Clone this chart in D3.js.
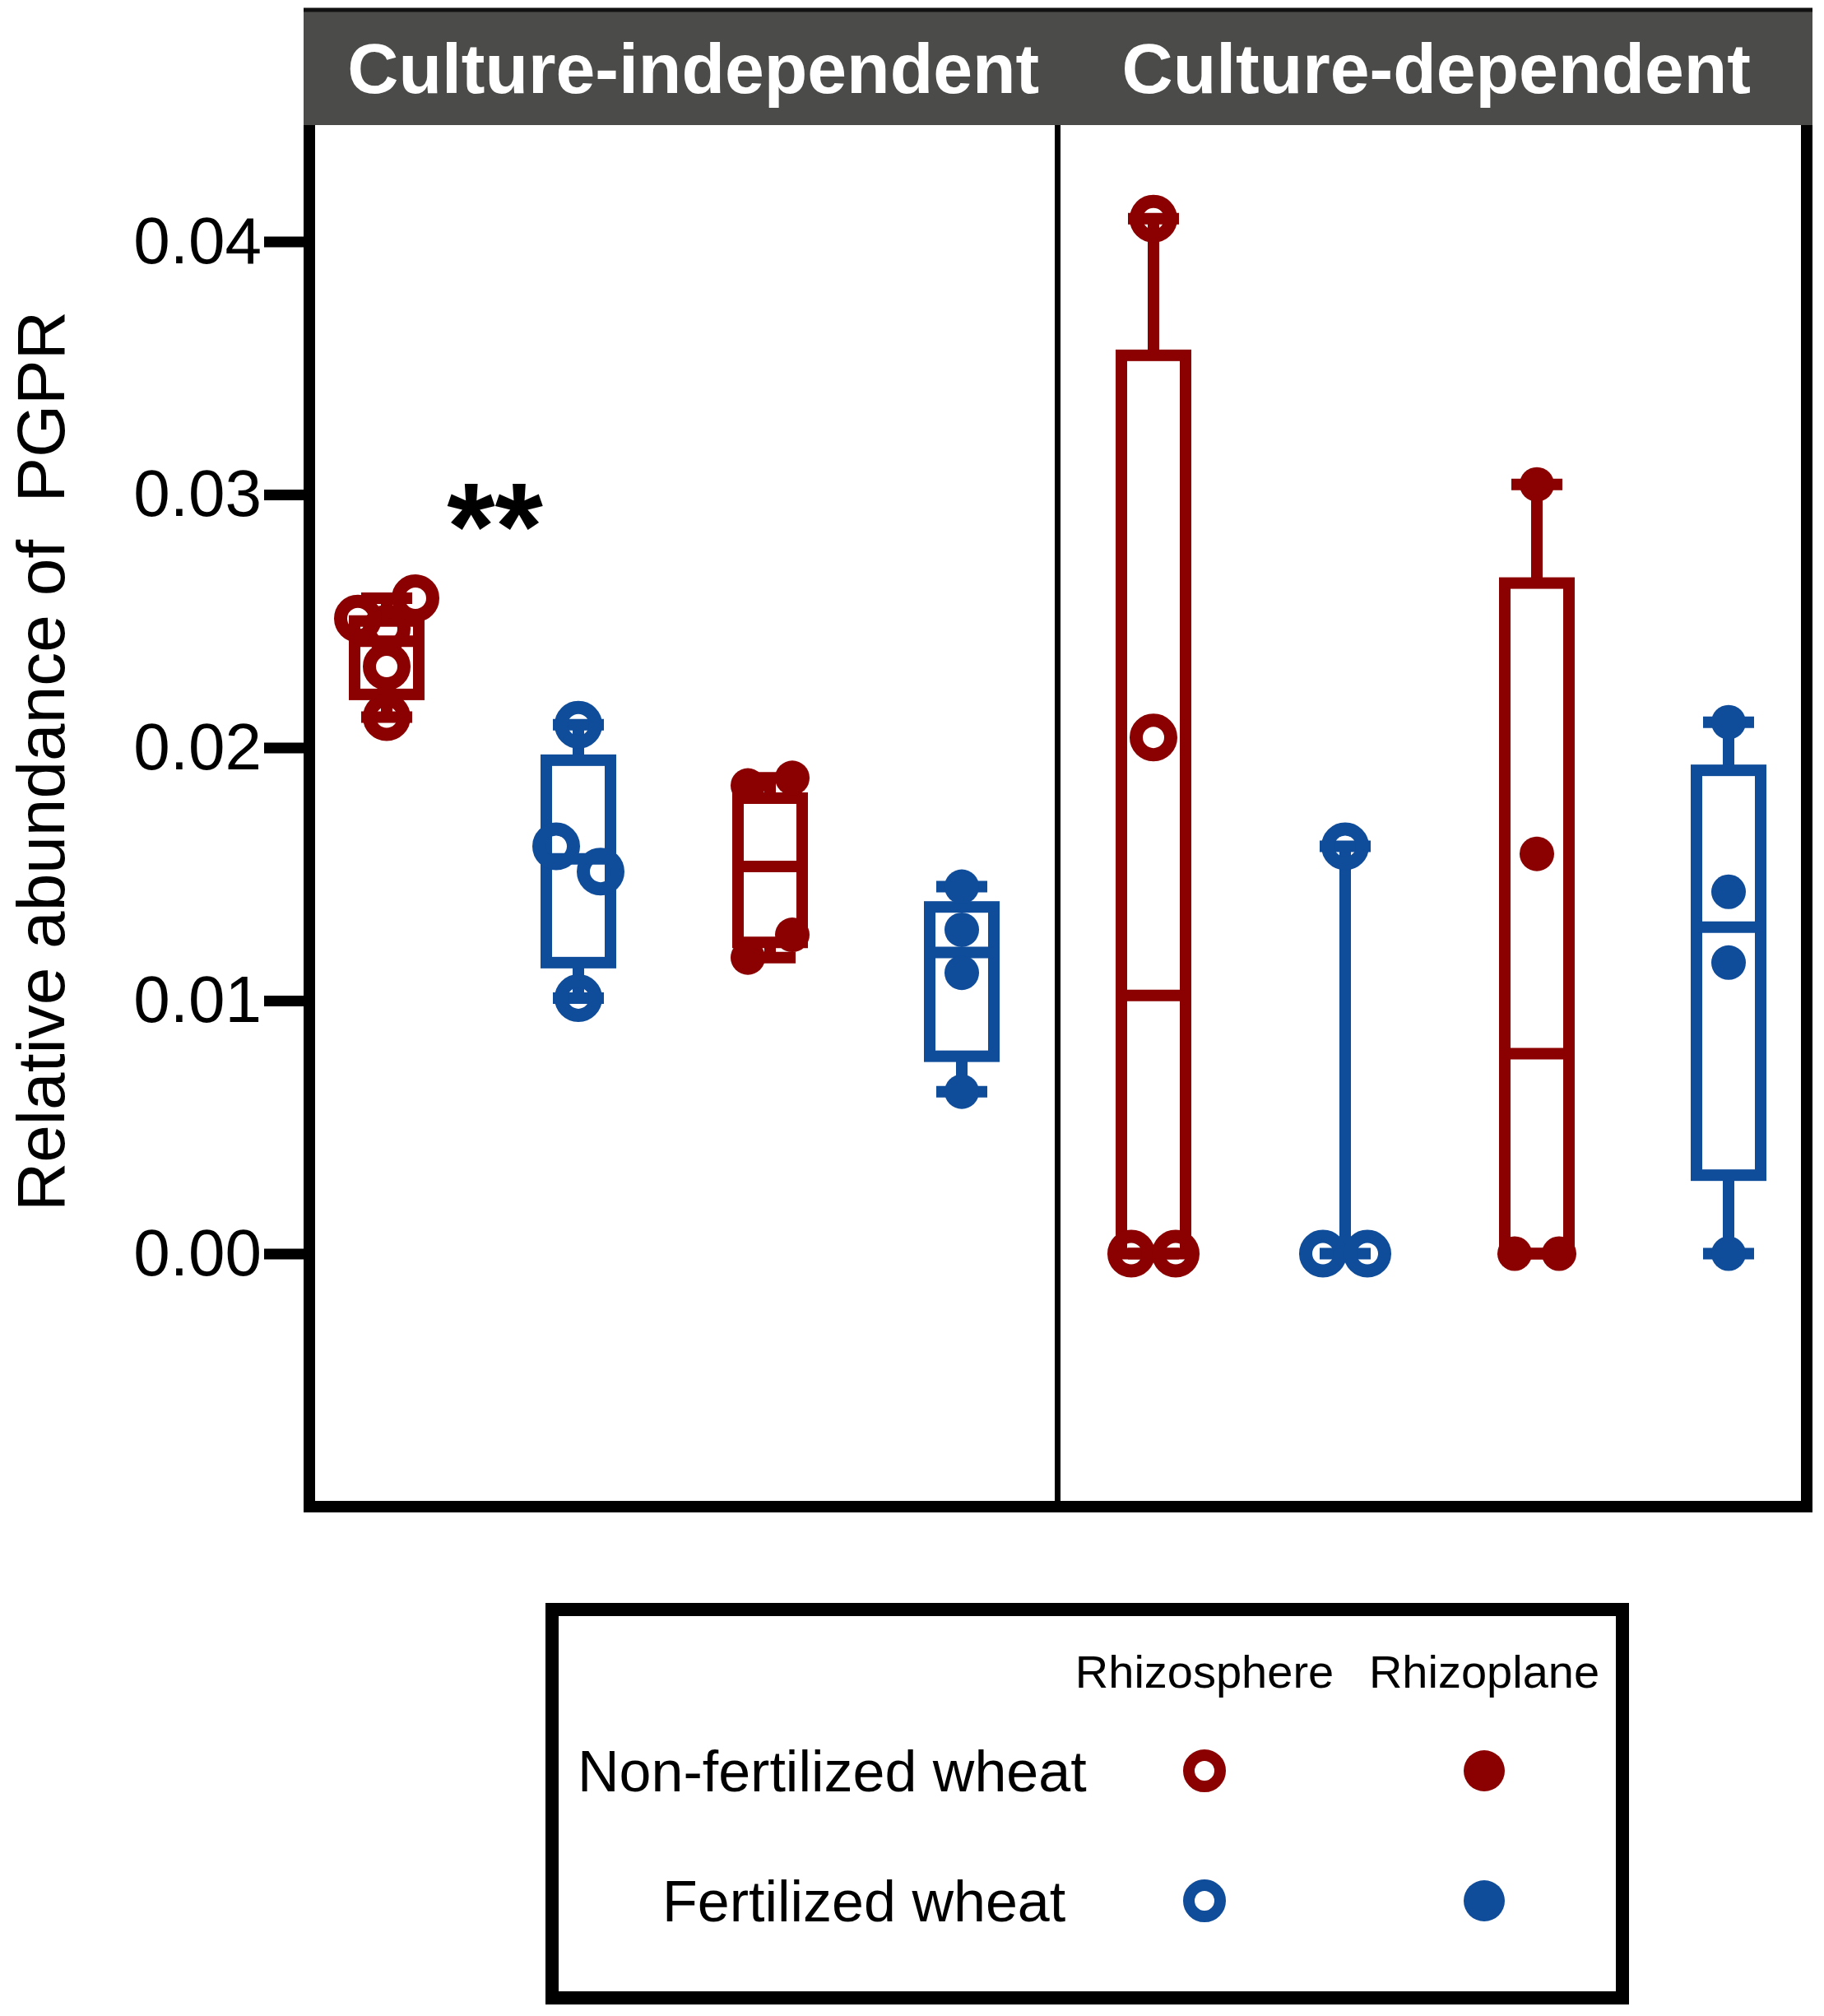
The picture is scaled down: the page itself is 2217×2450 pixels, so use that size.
<!DOCTYPE html>
<html>
<head>
<meta charset="utf-8">
<script src="https://cdn.jsdelivr.net/npm/d3@7"></script>
<style>
  body { margin: 0; background: #fff; }
  text { font-family: "Liberation Sans", Arial, Helvetica, sans-serif; }
</style>
</head>
<body>
<div id="chart"></div>
<script>
// facet strips
const panels = ["Culture-independent", "Culture-dependent"];
// groups inside each panel, left to right
const compartments = ["Rhizosphere", "Rhizosphere", "Rhizoplane", "Rhizoplane"];
const treatments = ["Non-fertilized wheat", "Fertilized wheat", "Non-fertilized wheat", "Fertilized wheat"];

// individual samples, one array per box (panel 1 groups then panel 2 groups)
const sampleValues = [
  [0.0212, 0.0232, 0.0251, 0.0247, 0.0259],
  [0.0101, 0.0161, 0.0151, 0.0209],
  [0.0117, 0.0126, 0.0185, 0.0188],
  [0.0064, 0.0111, 0.0128, 0.0145],
  [0, 0, 0.0204, 0.0409],
  [0, 0, 0.0161],
  [0, 0, 0.0158, 0.0304],
  [0, 0.0115, 0.0143, 0.0210]
];
// box statistics (null = no box drawn)
const boxQ1 = [0.0221, 0.0115, 0.0123, 0.0078, 0, null, 0, 0.0031];
const boxMedian = [0.0242, 0.0156, 0.0153, 0.0119, 0.0102, null, 0.0079, 0.0129];
const boxQ3 = [0.0250, 0.0195, 0.0180, 0.0137, 0.0355, null, 0.0265, 0.0191];

const yTicks = [0, 0.01, 0.02, 0.03, 0.04];
const yTitle = "Relative abundance of  PGPR";
const significance = [{ panel: 0, between: [0, 1], value: 0.0295, label: "**" }];

const legendRows = ["Non-fertilized wheat", "Fertilized wheat"];
const legendCols = ["Rhizosphere", "Rhizoplane"];

// styling
const colorOf = { "Non-fertilized wheat": "#8b0000", "Fertilized wheat": "#0f4c9a" };
const isOpen = c => c === "Rhizosphere";

const width = 2217, height = 2450;
const plotLeft = 376, plotRight = 2196, plotTop = 152, plotBottom = 1831;

const svg = d3.select("#chart").append("svg")
  .attr("width", width)
  .attr("height", height);

const y = d3.scaleLinear().domain([-0.01, 0.0446]).range([plotBottom, plotTop]);

// one point per box across both panels
const groups = [];
panels.forEach((p, pi) => {
  compartments.forEach((c, gi) => {
    const idx = pi * compartments.length + gi;
    groups.push({
      key: p + "|" + gi,
      panel: pi,
      compartment: c,
      treatment: treatments[gi],
      values: sampleValues[idx],
      q1: boxQ1[idx],
      median: boxMedian[idx],
      q3: boxQ3[idx]
    });
  });
});

const x = d3.scalePoint().domain(groups.map(d => d.key)).range([470, 2101]);

// strip header
svg.append("rect")
  .attr("x", 369).attr("y", 12)
  .attr("width", 2203 - 369).attr("height", plotTop - 12)
  .attr("fill", "#4b4b49");
svg.append("line")
  .attr("x1", 369).attr("x2", 2203)
  .attr("y1", 12).attr("y2", 12)
  .attr("stroke", "#111").attr("stroke-width", 5);

const divider = (x(groups[3].key) + x(groups[4].key)) / 2;
const panelCenters = [(plotLeft + divider) / 2 + 12, (divider + plotRight) / 2 + 5];
svg.selectAll(".strip")
  .data(panels)
  .join("text")
  .attr("class", "strip")
  .attr("x", (d, i) => panelCenters[i])
  .attr("y", 113)
  .attr("text-anchor", "middle")
  .attr("fill", "#fff")
  .attr("font-weight", "bold")
  .attr("font-size", 86)
  .text(d => d);

// frame
const frame = svg.append("g").attr("stroke", "#000").attr("fill", "none");
frame.append("path")
  .attr("d", `M${plotLeft},${plotTop}V${plotBottom}H${plotRight}V${plotTop}`)
  .attr("stroke-width", 14);
frame.append("line")
  .attr("x1", divider).attr("x2", divider)
  .attr("y1", plotTop).attr("y2", plotBottom)
  .attr("stroke-width", 7);

// y axis
const axis = svg.append("g")
  .attr("transform", `translate(${plotLeft},0)`)
  .call(d3.axisLeft(y).tickValues(yTicks).tickFormat(d3.format(".2f")).tickSize(55).tickPadding(3));
axis.select(".domain").remove();
axis.selectAll(".tick line").attr("stroke", "#000").attr("stroke-width", 13);
axis.selectAll(".tick text")
  .attr("fill", "#000")
  .attr("font-size", 80)
  .attr("font-family", "Liberation Sans, Arial, sans-serif");

svg.append("text")
  .attr("transform", `translate(78,925) rotate(-90)`)
  .attr("text-anchor", "middle")
  .attr("font-size", 82)
  .style("white-space", "pre")
  .text(yTitle);

// boxes
const boxW = 78, capW = 62, lw = 14;
const boxes = svg.append("g").selectAll("g")
  .data(groups)
  .join("g")
  .attr("stroke", d => colorOf[d.treatment])
  .attr("stroke-width", lw)
  .attr("fill", "none");

boxes.each(function (d) {
  const g = d3.select(this);
  const cx = x(d.key);
  const [lo, hi] = d3.extent(d.values);
  const top = d.q3 == null ? lo : d.q3;
  const bottom = d.q1 == null ? lo : d.q1;
  if (hi > top) g.append("line").attr("x1", cx).attr("x2", cx).attr("y1", y(hi)).attr("y2", y(top));
  if (lo < bottom) g.append("line").attr("x1", cx).attr("x2", cx).attr("y1", y(lo)).attr("y2", y(bottom));
  [lo, hi].forEach(v => {
    g.append("line")
      .attr("x1", cx - capW / 2).attr("x2", cx + capW / 2)
      .attr("y1", y(v)).attr("y2", y(v));
  });
  if (d.q1 != null) {
    g.append("rect")
      .attr("x", cx - boxW / 2).attr("width", boxW)
      .attr("y", y(d.q3)).attr("height", y(d.q1) - y(d.q3));
    g.append("line")
      .attr("x1", cx - boxW / 2).attr("x2", cx + boxW / 2)
      .attr("y1", y(d.median)).attr("y2", y(d.median));
  }
});

// simple dodge: neighbouring points that would overlap are spread sideways,
// keeping the order in which the samples are listed
function dodge(values, threshold, spacing) {
  const pts = values.map((v, i) => ({ v, i, py: y(v) })).sort((a, b) => a.v - b.v);
  const clusters = [];
  pts.forEach(p => {
    const last = clusters[clusters.length - 1];
    if (last && Math.abs(last[last.length - 1].py - p.py) < threshold) last.push(p);
    else clusters.push([p]);
  });
  clusters.forEach(c => {
    c.sort((a, b) => a.i - b.i);
    const step = c.length > 2 ? Math.min(spacing, 70 / (c.length - 1)) : spacing;
    c.forEach((p, i) => { p.dx = (i - (c.length - 1) / 2) * step; });
  });
  return pts;
}

const pointLayer = svg.append("g");
groups.forEach(d => {
  const col = colorOf[d.treatment];
  const open = isOpen(d.compartment);
  pointLayer.append("g").selectAll("circle")
    .data(dodge(d.values, 40, 54))
    .join("circle")
    .attr("cx", p => x(d.key) + p.dx)
    .attr("cy", p => p.py)
    .attr("r", 21)
    .attr("fill", open ? "none" : col)
    .attr("stroke", open ? col : "none")
    .attr("stroke-width", open ? 16 : 0);
});

// significance mark
svg.selectAll(".sig")
  .data(significance)
  .join("text")
  .attr("class", "sig")
  .attr("x", d => (x(groups[d.between[0]].key) + x(groups[d.between[1]].key)) / 2 + 15)
  .attr("y", d => y(d.value) + 76)
  .attr("text-anchor", "middle")
  .attr("font-weight", "bold")
  .attr("font-size", 150)
  .text(d => d.label);

// legend
const legend = svg.append("g");
legend.append("rect")
  .attr("x", 671).attr("y", 1956)
  .attr("width", 1972 - 671).attr("height", 2428 - 1956)
  .attr("fill", "#fff").attr("stroke", "#000").attr("stroke-width", 16);

const colX = d3.scalePoint().domain(legendCols).range([1464, 1804]);
const rowY = d3.scalePoint().domain(legendRows).range([2152, 2310]);

legend.selectAll(".colhead")
  .data(legendCols)
  .join("text")
  .attr("class", "colhead")
  .attr("x", d => colX(d))
  .attr("y", 2051)
  .attr("text-anchor", "middle")
  .attr("font-size", 56)
  .text(d => d);

const rowStart = { "Non-fertilized wheat": 702, "Fertilized wheat": 805 };
legend.selectAll(".rowhead")
  .data(legendRows)
  .join("text")
  .attr("class", "rowhead")
  .attr("x", d => rowStart[d])
  .attr("y", d => rowY(d) + 25)
  .attr("font-size", 70)
  .text(d => d);

const cells = legendRows.flatMap(r => legendCols.map(c => ({ r, c })));
legend.selectAll(".sym")
  .data(cells)
  .join("circle")
  .attr("class", "sym")
  .attr("cx", d => colX(d.c))
  .attr("cy", d => rowY(d.r))
  .attr("r", d => isOpen(d.c) ? 19 : 25)
  .attr("fill", d => isOpen(d.c) ? "none" : colorOf[d.r])
  .attr("stroke", d => isOpen(d.c) ? colorOf[d.r] : "none")
  .attr("stroke-width", 14);
</script>
</body>
</html>
